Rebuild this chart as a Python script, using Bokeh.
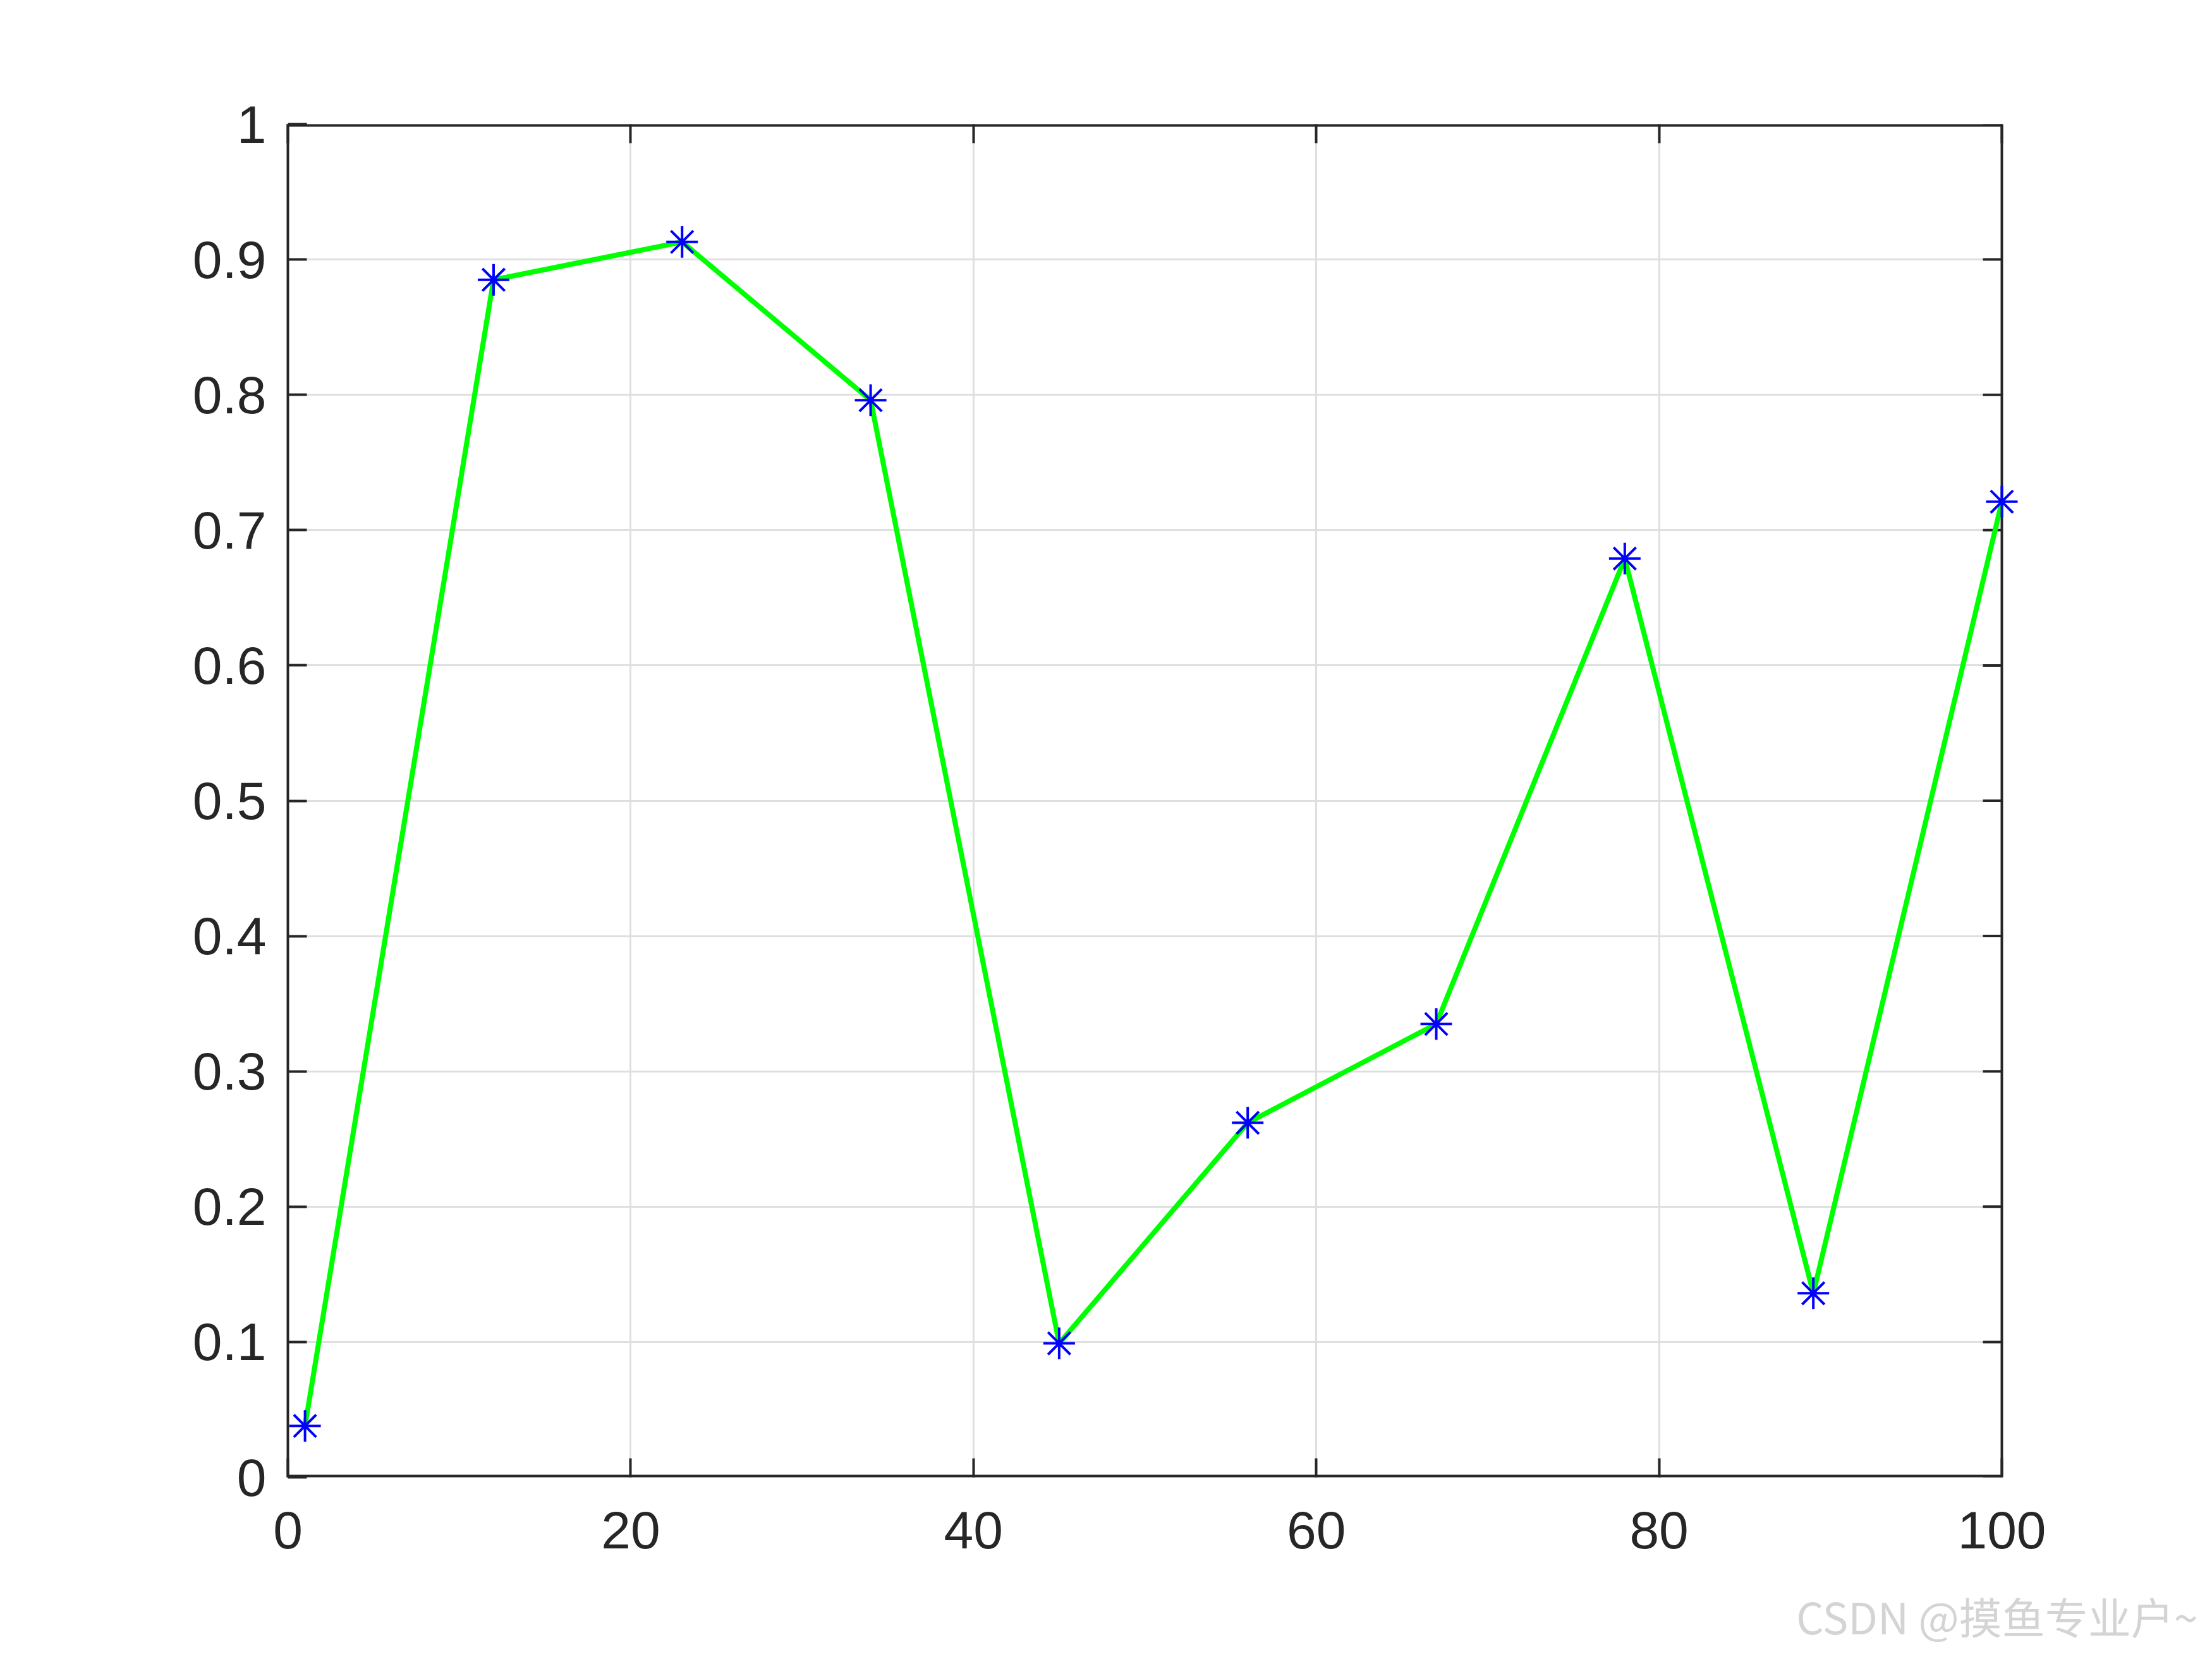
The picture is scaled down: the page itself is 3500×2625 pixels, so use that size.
from bokeh.plotting import figure
from bokeh.models import Range1d, LinearAxis, FixedTicker, Title
from bokeh.embed import file_html
from bokeh.resources import INLINE

# data
x_vals = [1, 12, 23, 34, 45, 56, 67, 78, 89, 100]
y_vals = [0.038, 0.885, 0.913, 0.796, 0.099, 0.262, 0.335, 0.679, 0.136, 0.721]
x_ticks = [0, 20, 40, 60, 80, 100]
y_ticks = [0, 0.1, 0.2, 0.3, 0.4, 0.5, 0.6, 0.7, 0.8, 0.9, 1]
y_tick_labels = {0: "0", 0.1: "0.1", 0.2: "0.2", 0.3: "0.3", 0.4: "0.4", 0.5: "0.5",
                 0.6: "0.6", 0.7: "0.7", 0.8: "0.8", 0.9: "0.9", 1: "1"}
watermark = "CSDN @摸鱼专业户~"

X0, X1, Y0, Y1 = 0, 100, 0, 1

W, H = 3484, 2609
FL, FT = 455, 196
AXW, FH = 2712, 2141          # visual axes box size in px
EXTRA = 34                    # extra px on the right so the edge marker is not clipped
FW = AXW + EXTRA
px_x = (X1 - X0) / AXW        # data units per px
x_end = X1 + EXTRA * px_x
tick_len = 30

p = figure(width=W, height=H, frame_width=FW, frame_height=FH,
           min_border_left=FL, min_border_top=FT,
           min_border_right=W - FL - FW, min_border_bottom=H - FT - FH,
           x_range=Range1d(X0, x_end), y_range=Range1d(Y0, Y1),
           output_backend="svg", toolbar_location=None)
p.background_fill_color = "white"
p.border_fill_color = "white"
p.outline_line_color = None

axis_color = "#262626"
font = "Liberation Sans"
for ax in [p.xaxis[0], p.yaxis[0]]:
    ax.axis_line_color = axis_color
    ax.axis_line_width = 4
    ax.major_tick_line_color = axis_color
    ax.major_tick_line_width = 4
    ax.major_tick_in = tick_len
    ax.major_tick_out = 0
    ax.minor_tick_line_color = None
    ax.major_label_text_font = font
    ax.major_label_text_font_size = "84px"
    ax.major_label_text_color = axis_color
p.xaxis[0].axis_line_color = None
p.xaxis[0].ticker = FixedTicker(ticks=x_ticks)
p.yaxis[0].ticker = FixedTicker(ticks=y_ticks)
p.yaxis[0].major_label_overrides = y_tick_labels
p.xaxis[0].major_label_standoff = 54
p.yaxis[0].major_label_standoff = 34

# mirrored ticks on top
top = LinearAxis(ticker=FixedTicker(ticks=x_ticks))
top.axis_line_color = None
top.major_tick_line_color = axis_color
top.major_tick_line_width = 4
top.major_tick_in = tick_len
top.major_tick_out = 0
top.minor_tick_line_color = None
top.major_label_text_font_size = "0px"
top.major_label_text_color = None
p.add_layout(top, "above")

p.xgrid.ticker = FixedTicker(ticks=x_ticks)
p.ygrid.ticker = FixedTicker(ticks=y_ticks)
for g in [p.xgrid[0], p.ygrid[0]]:
    g.grid_line_color = "#dfdfdf"
    g.grid_line_width = 3

# blank the strip right of the axes box
p.quad(left=[X1], right=[x_end], bottom=[Y0], top=[Y1], fill_color="white",
       line_color=None)
# box lines: right edge, top and bottom (half clipped at frame edge -> width 8)
p.segment(x0=[X1], y0=[Y0], x1=[X1], y1=[Y1], line_color=axis_color, line_width=4)
p.segment(x0=[X0, X0], y0=[Y0, Y1], x1=[X1, X1], y1=[Y0, Y1],
          line_color=axis_color, line_width=8)
# right-side inward ticks
p.segment(x0=[X1 - tick_len * px_x] * len(y_ticks), y0=y_ticks,
          x1=[X1] * len(y_ticks), y1=y_ticks, line_color=axis_color, line_width=4)

p.line(x_vals, y_vals, line_color="#00ff00", line_width=8)
p.scatter(x_vals, y_vals, marker="asterisk", size=50, line_color="#0000ff",
          line_width=4, fill_color=None)

# watermark, bottom right
wm = Title(text=watermark, align="right", text_font="Noto Sans CJK SC",
           text_font_size="68px", text_color="#d4d4d4", text_font_style="normal",
           offset=-276, standoff=105)
p.add_layout(wm, "below")

open("out.html", "w").write(file_html(p, INLINE))
